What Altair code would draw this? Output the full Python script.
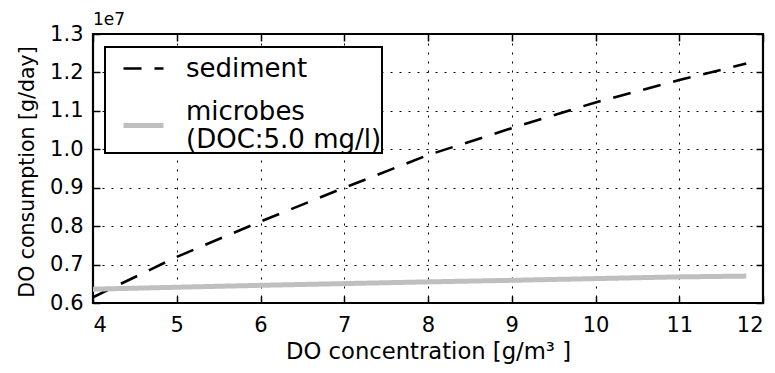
import altair as alt
import pandas as pd

# ---- data ----
x_vals = [4, 5, 6, 7, 8, 9, 10, 11, 11.8]
sediment = [6.15e6, 7.20e6, 8.12e6, 9.00e6, 9.85e6, 10.55e6, 11.22e6, 11.80e6, 12.23e6]
microbes = [6.36e6, 6.41e6, 6.46e6, 6.505e6, 6.55e6, 6.59e6, 6.635e6, 6.68e6, 6.70e6]
series_names = ["sediment", "microbes|(DOC:5.0 mg/l)\u00a0\u2009"]
x_ticks = [4, 5, 6, 7, 8, 9, 10, 11, 12]
y_ticks = [6e6, 7e6, 8e6, 9e6, 10e6, 11e6, 12e6, 13e6]

rows = []
for xv, s in zip(x_vals, sediment):
    rows.append({"x": xv, "value": s, "series": series_names[0]})
for xv, m in zip(x_vals, microbes):
    rows.append({"x": xv, "value": m, "series": series_names[1]})
df = pd.DataFrame(rows)

FONT = "DejaVu Sans"
W, H = 670, 269

xs = alt.Scale(domain=[4, 12], nice=False, zero=False)
ys = alt.Scale(domain=[6e6, 13e6], nice=False, zero=False)

legend_props = dict(
    orient="none", legendX=12, legendY=13, title=None,
    strokeColor="black", fillColor="white", padding=0, symbolOffset=16,
    labelFontSize=26, labelLimit=500, labelOffset=20, gridAlign="each",
    symbolType="stroke", symbolSize=1600, rowPadding=16,
    labelExpr="split(datum.label, '|')",
    labelBaseline=alt.ExprRef(expr="datum.index == 0 ? 'middle' : 'line-bottom'"),
)

main = alt.Chart(df).mark_line().encode(
    x=alt.X("x:Q", scale=xs, axis=alt.Axis(
        values=x_ticks, labelFontSize=21, labelPadding=11, tickSize=0,
        domain=False, grid=True, gridColor="black", gridDash=[2, 7], gridWidth=1,
        title="DO concentration [g/m\u00b3 ]", titleFontSize=22.7, titleFontWeight="normal",
        titleY=55, titleBaseline="alphabetic", labelColor="black", titleColor="black")),
    y=alt.Y("value:Q", scale=ys, axis=alt.Axis(
        values=y_ticks, labelExpr="format(datum.value / 1e7, '.1f')",
        labelFontSize=21, labelPadding=10, tickSize=0,
        domain=False, grid=True, gridColor="black", gridDash=[2, 7], gridWidth=1,
        title="DO consumption [g/day]", titleFontSize=20.5, titleFontWeight="normal",
        titleX=-60, titleY=H / 2 + 3, titleAlign="center", titleBaseline="alphabetic",
        labelColor="black", titleColor="black")),
    color=alt.Color("series:N", scale=alt.Scale(domain=series_names, range=["black", "#bfbfbf"]),
                    legend=alt.Legend(**legend_props)),
    strokeDash=alt.StrokeDash("series:N", scale=alt.Scale(domain=series_names, range=[[18, 13], [1, 0]]),
                              legend=alt.Legend(**legend_props)),
    strokeWidth=alt.StrokeWidth("series:N", scale=alt.Scale(domain=series_names, range=[2.6, 5]),
                                legend=alt.Legend(**legend_props)),
)

tick_axis = dict(tickSize=7, offset=-7, labels=False, domain=False, grid=False, title=None,
                 tickColor="black", tickWidth=1.5, minExtent=0, maxExtent=0)

ticks_tr = alt.Chart(df).mark_point(opacity=0).encode(
    x=alt.X("x:Q", scale=xs, axis=alt.Axis(orient="top", values=x_ticks, **tick_axis)),
    y=alt.Y("value:Q", scale=ys, axis=alt.Axis(orient="right", values=y_ticks, **tick_axis)),
)
ticks_bl = alt.Chart(df).mark_point(opacity=0).encode(
    x=alt.X("x:Q", scale=xs, axis=alt.Axis(orient="bottom", values=x_ticks, **tick_axis)),
    y=alt.Y("value:Q", scale=ys, axis=alt.Axis(orient="left", values=y_ticks, **tick_axis)),
)

chart = alt.layer(ticks_tr, ticks_bl, main).resolve_axis(
    x="independent", y="independent"
).properties(
    width=W, height=H,
    title=alt.TitleParams("1e7", anchor="start", frame="group", fontSize=17,
                          fontWeight="normal", font=FONT, offset=-6, color="black"),
    autosize=alt.AutoSizeParams(type="none"),
    padding={"left": 93, "top": 34, "right": 12, "bottom": 70},
).configure(
    font=FONT,
).configure_view(
    stroke="black", strokeWidth=2.2
).configure_legend(
    strokeWidth=2, labelFont=FONT, labelColor="black"
).configure_axis(
    labelFont=FONT, titleFont=FONT
)

chart.save("out.html", embed_options={"renderer": "svg", "actions": False})
